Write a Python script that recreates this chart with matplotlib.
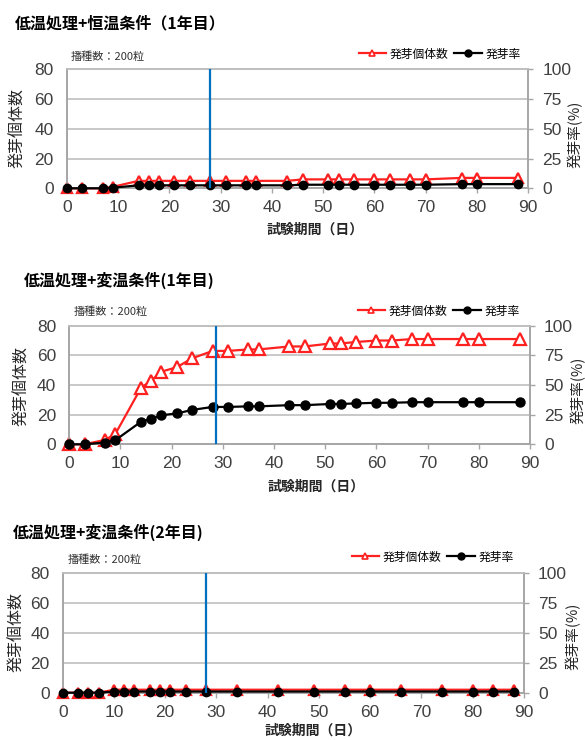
import matplotlib

matplotlib.use("Agg")

import matplotlib.pyplot as plt  # noqa: E402
from matplotlib.lines import Line2D  # noqa: E402

plt.rcParams["font.family"] = ["Noto Sans CJK JP", "DejaVu Sans"]

# 低温処理+恒温条件（1年目）
days_1 = [0, 3, 7, 9, 14, 16, 18, 21, 24, 28, 31, 35, 37, 43, 46, 51, 53, 56,
          60, 63, 67, 70, 77, 80, 88]
count_1 = [0, 0, 0, 1, 5, 5, 5, 5, 5, 5, 5, 5, 5, 5, 6, 6, 6, 6,
           6, 6, 6, 6, 7, 7, 7]
rate_1 = [0, 0, 0, 0.5, 2.5, 2.5, 2.5, 2.5, 2.5, 2.5, 2.5, 2.5, 2.5, 2.5, 3, 3, 3, 3,
          3, 3, 3, 3, 3.5, 3.5, 3.5]

# 低温処理+変温条件(1年目)
days_2 = [0, 3, 7, 9, 14, 16, 18, 21, 24, 28, 31, 35, 37, 43, 46, 51, 53, 56,
          60, 63, 67, 70, 77, 80, 88]
count_2 = [0, 0, 3, 7, 38, 43, 49, 52, 58, 63, 63, 64, 64, 66, 66, 68, 68, 69,
           70, 70, 71, 71, 71, 71, 71]
rate_2 = [0, 0, 1.5, 3.5, 19, 21.5, 24.5, 26, 29, 31.5, 31.5, 32, 32, 33, 33, 34, 34, 34.5,
          35, 35, 35.5, 35.5, 35.5, 35.5, 35.5]

# 低温処理+変温条件(2年目)
days_3 = [0, 3, 5, 7, 10, 12, 14, 17, 19, 21, 24, 28, 34, 42, 49, 55, 60, 66,
          74, 80, 84, 88]
count_3 = [0, 0, 0, 0, 2, 2, 2, 2, 2, 2, 2, 2, 2, 2, 2, 2, 2, 2,
           2, 2, 2, 2]
rate_3 = [0, 0, 0, 0, 1, 1, 1, 1, 1, 1, 1, 1, 1, 1, 1, 1, 1, 1,
          1, 1, 1, 1]

marker_days = [28, 28.6, 28]
titles = ["低温処理+恒温条件（1年目）", "低温処理+変温条件(1年目)", "低温処理+変温条件(2年目)"]

W, H = 585, 740
RED = "#FF2020"
BLUE = "#0070C0"
GRAY = "#A6A6A6"
GRID = "#BFBFBF"
NUM_FONT = ["Liberation Sans Narrow", "Liberation Sans", "DejaVu Sans"]


def fx(x):
    return x / W


def fy(y):
    return 1 - y / H


# pixel layout of each panel: axes box, title, note, legend, labels
layout = [
    dict(box=(66.7, 69.3, 528.3, 188.3), title=(15, 23), note=(71, 57),
         legend=(521, 54), ylab=(18, 128), rlab=(575, 134), xlab=(315, 230),
         tri=7.5, circ=6, tri_face="white"),
    dict(box=(69.3, 325.7, 530, 444.3), title=(24, 280), note=(74, 312),
         legend=(520, 311), ylab=(22, 386), rlab=(578, 390), xlab=(316, 487),
         tri=9, circ=6.5, tri_face="white"),
    dict(box=(62.7, 573.3, 524, 692.7), title=(13, 532), note=(68, 560),
         legend=(514, 557), ylab=(17, 632), rlab=(573, 636), xlab=(313, 731),
         tri=7.5, circ=6, tri_face=RED),
]

data = [(days_1, count_1, rate_1), (days_2, count_2, rate_2), (days_3, count_3, rate_3)]

fig = plt.figure(figsize=(5.85, 7.4), dpi=100)

for i, lay in enumerate(layout):
    days, count, rate = data[i]
    x0, y0, x1, y1 = lay["box"]
    ax = fig.add_axes([fx(x0), fy(y1), (x1 - x0) / W, (y1 - y0) / H])
    ax2 = ax.twinx()

    ax.set_xlim(0, 90)
    ax.set_ylim(0, 80)
    ax2.set_ylim(0, 100)
    ax.set_xticks(range(0, 91, 10))
    ax.set_yticks(range(0, 81, 20))
    ax2.set_yticks(range(0, 101, 25))

    ax.grid(axis="y", color=GRID, linewidth=1.2)
    ax.set_axisbelow(True)
    for a in (ax, ax2):
        for side in ("left", "right", "bottom"):
            a.spines[side].set_color(GRAY)
            a.spines[side].set_linewidth(1.2)
        a.spines["top"].set_color(GRID)
        a.spines["top"].set_linewidth(1.2)

    ax.tick_params(axis="y", length=0, pad=9.5, labelsize=12.5,
                   labelcolor="#404040", labelfontfamily=NUM_FONT)
    ax.tick_params(axis="x", length=3.5, width=1, color=GRAY, pad=5,
                   labelsize=12.5, labelcolor="#404040", labelfontfamily=NUM_FONT)
    ax2.tick_params(axis="y", length=3.5, width=1, color=GRAY, pad=6.5,
                    labelsize=12.5, labelcolor="#404040", labelfontfamily=NUM_FONT)

    ax.plot(days, count, color=RED, linewidth=1.6, marker="^",
            markersize=lay["tri"], markerfacecolor=lay["tri_face"],
            markeredgecolor=RED, markeredgewidth=1.6, clip_on=False, zorder=3)
    ax2.plot(days, rate, color="black", linewidth=1.6, marker="o",
             markersize=lay["circ"], markerfacecolor="black",
             markeredgecolor="black", clip_on=False, zorder=3)
    ax2.axvline(marker_days[i], color=BLUE, linewidth=1.6, zorder=4)

    handles = [
        Line2D([], [], color=RED, linewidth=1.6, marker="^", markersize=5,
               markerfacecolor="white", markeredgecolor=RED, markeredgewidth=1.2),
        Line2D([], [], color="black", linewidth=1.6, marker="o", markersize=5,
               markerfacecolor="black"),
    ]
    lx, ly = lay["legend"]
    fig.legend(handles, ["発芽個体数", "発芽率"], loc="center right",
               bbox_to_anchor=(fx(lx), fy(ly)), ncol=2, frameon=False,
               fontsize=8.5, handlelength=2.3, handletextpad=0.35,
               columnspacing=0.5, borderpad=0, borderaxespad=0)

    tx, ty = lay["title"]
    fig.text(fx(tx), fy(ty), titles[i], fontsize=11.5, fontweight="bold",
             ha="left", va="center")
    nx, ny = lay["note"]
    fig.text(fx(nx), fy(ny), "播種数：200粒", fontsize=8, color="#333333",
             ha="left", va="center")
    yx, yy = lay["ylab"]
    fig.text(fx(yx), fy(yy), "発芽個体数", fontsize=11.5, rotation=90,
             ha="center", va="center", color="#262626")
    rx, ry = lay["rlab"]
    fig.text(fx(rx), fy(ry), "発芽率(%)", fontsize=10.5, rotation=90,
             ha="center", va="center", color="#262626")
    xx, xy = lay["xlab"]
    fig.text(fx(xx), fy(xy), "試験期間（日）", fontsize=10, fontweight="bold",
             ha="center", va="center", color="#262626")

fig.savefig("out.png", dpi=100)
